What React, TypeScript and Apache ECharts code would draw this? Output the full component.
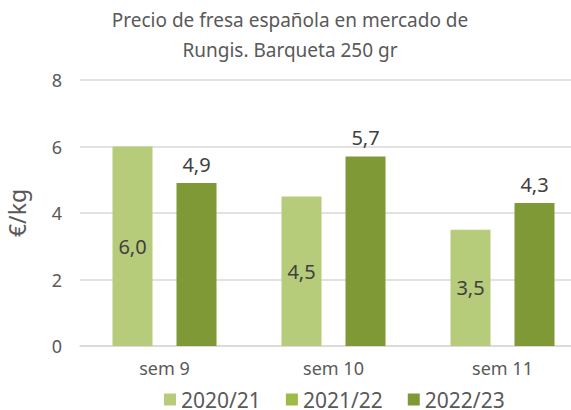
import React, { useEffect, useRef } from "react";
import * as echarts from "echarts";

const categories = ["sem 9", "sem 10", "sem 11"];
const seriesNames = ["2020/21", "2021/22", "2022/23"];
const values2020 = [6.0, 4.5, 3.5];
const values2021: number[] = [];
const values2022 = [4.9, 5.7, 4.3];
const yTicks = { min: 0, max: 8, interval: 2 };
const titleLines = ["Precio de fresa española en mercado de", "Rungis. Barqueta 250 gr"];
const yName = "€/kg";

const COLORS = ["#B6CC7A", "#9DBB47", "#809937"];
const FONT = "Noto Sans";
const TXT = "#595959";

const fmt = (p: any) => Number(p.value).toFixed(1).replace(".", ",");

export default function App() {
  const ref = useRef<HTMLDivElement>(null);
  useEffect(() => {
    const chart = echarts.init(ref.current!, undefined, { renderer: "svg" });
    chart.setOption({
      animation: false,
      backgroundColor: "#ffffff",
      textStyle: { fontFamily: FONT },
      title: {
        text: titleLines.join("\n"),
        left: 290,
        textAlign: "center",
        top: 5,
        padding: 0,
        textStyle: { fontFamily: FONT, fontSize: 19, fontWeight: "normal", color: TXT, lineHeight: 30 },
      },
      legend: {
        left: 164,
        top: 389,
        padding: 0,
        icon: "rect",
        itemWidth: 12,
        itemHeight: 12,
        itemGap: 25,
        data: seriesNames,
        textStyle: { fontFamily: FONT, fontSize: 21, color: TXT },
      },
      grid: {
        left: 80,
        width: 507,
        top: 80,
        height: 266,
        containLabel: false,
        outerBoundsMode: "none",
      },
      xAxis: {
        type: "category",
        data: categories,
        axisTick: { show: false },
        axisLine: { lineStyle: { color: "#D9D9D9", width: 1.5 } },
        axisLabel: { color: TXT, fontSize: 18, margin: 13, fontFamily: FONT },
      },
      yAxis: {
        type: "value",
        min: yTicks.min,
        max: yTicks.max,
        interval: yTicks.interval,
        name: yName,
        nameLocation: "middle",
        nameRotate: 90,
        nameGap: 52,
        nameTextStyle: { color: TXT, fontSize: 23, fontFamily: FONT },
        axisLine: { show: false },
        axisTick: { show: false },
        axisLabel: { color: TXT, fontSize: 18, margin: 18, fontFamily: FONT },
        splitLine: { lineStyle: { color: "#D9D9D9", width: 1.5 } },
      },
      series: [
        {
          name: seriesNames[0],
          type: "bar",
          data: values2020,
          barWidth: 40,
          barGap: "60%",
          itemStyle: { color: COLORS[0] },
          label: { show: true, position: "inside", formatter: fmt, color: "#404040", fontSize: 20, fontFamily: FONT },
        },
        {
          name: seriesNames[1],
          type: "line",
          data: values2021,
          itemStyle: { color: COLORS[1] },
          lineStyle: { color: COLORS[1] },
        },
        {
          name: seriesNames[2],
          type: "bar",
          data: values2022,
          barWidth: 40,
          barGap: "60%",
          itemStyle: { color: COLORS[2] },
          label: { show: true, position: "top", distance: 9, formatter: fmt, color: "#404040", fontSize: 20, fontFamily: FONT },
        },
      ],
    });
    return () => chart.dispose();
  }, []);
  return (
    <div
      ref={ref}
      style={{ position: "fixed", left: 0, top: 0, width: 571, height: 410, overflow: "hidden" }}
    />
  );
}
